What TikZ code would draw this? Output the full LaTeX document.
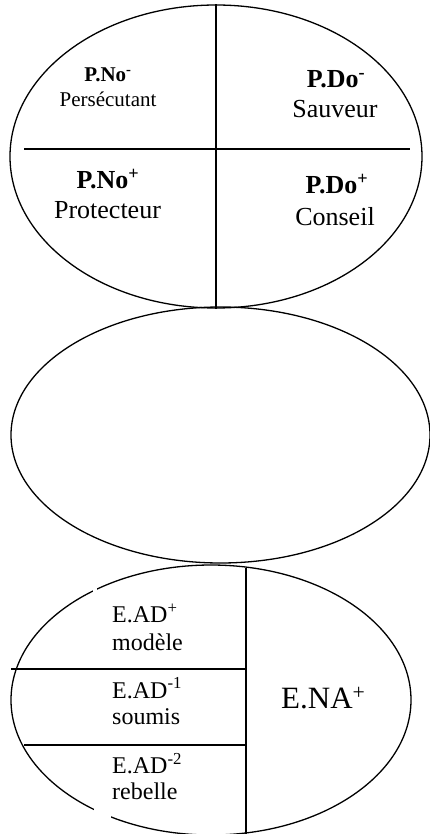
\documentclass[tikz,border=0pt]{standalone}
\usepackage{fontspec}
\setmainfont{Liberation Serif}
\usetikzlibrary{shapes.geometric}
\begin{document}
\begin{tikzpicture}[x=1pt,y=-1pt,
  oval/.style={draw, ellipse, line width=1.3pt, inner sep=0pt},
  divider/.style={line width=2pt},
  lbl/.style={inner sep=0pt, anchor=base},
  lblw/.style={inner sep=0pt, anchor=base west},
  fsmall/.style={font=\fontsize{21}{24}\selectfont},
  fmid/.style={font=\fontsize{24}{28}\selectfont},
  fbig/.style={font=\fontsize{26}{30}\selectfont},
  fhuge/.style={font=\fontsize{31}{36}\selectfont}]
\clip (0,0) rectangle (430,834);
\fill[white] (0,0) rectangle (430,834);

% three stacked ovals
\node[oval, minimum width=412pt, minimum height=303pt] (roles) at (216,156.5) {};
\node[oval, minimum width=419pt, minimum height=256pt] (empty) at (220.5,435) {};
\node[oval, minimum width=400pt, minimum height=270pt] (states) at (211,700) {};

% quadrants of the upper oval
\coordinate (hL) at (24,149);
\coordinate (hR) at (410,149);
\draw[divider] (roles.north) -- (roles.south);
\draw[divider] (hL) -- (hR);

% columns and rows of the lower oval
\coordinate (vT) at (246,568);
\coordinate (vB) at (246,840);
\coordinate (r1L) at (11,669);
\coordinate (r1R) at (246,669);
\coordinate (r2L) at (24,745);
\coordinate (r2R) at (246,745);
\draw[divider] (vT) -- (vB);
\draw[divider] (r1L) -- (r1R);
\draw[divider] (r2L) -- (r2R);

% small breaks in the outline of the lower oval
\fill[white] (93.3,584) rectangle (96.7,597);
\fill[white] (93.5,806) rectangle (110.5,828);

% labels of the upper oval
\node[lbl, fsmall] (pnomT) at (108,81.7) {\textbf{P.No\textsuperscript{-}}};
\node[lbl, fsmall] (pnomS) at (108,106.7) {Persécutant};
\node[lbl, fbig] (pdomT) at (336,87.3) {\textbf{P.Do\textsuperscript{-}}};
\node[lbl, fbig] (pdomS) at (335,117.3) {Sauveur};
\node[lbl, fbig] (pnopT) at (108,188.3) {\textbf{P.No\textsuperscript{+}}};
\node[lbl, fbig] (pnopS) at (107.5,218.3) {Protecteur};
\node[lbl, fbig] (pdopT) at (337,194) {\textbf{P.Do\textsuperscript{+}}};
\node[lbl, fbig] (pdopS) at (335,225.7) {Conseil};

% labels of the lower oval
\node[lblw, fmid] (ead1T) at (112,622.7) {E.AD\textsuperscript{+}};
\node[lblw, fmid] (ead1S) at (112,650) {modèle};
\node[lblw, fmid] (ead2T) at (112,698) {E.AD\textsuperscript{-1}};
\node[lblw, fmid] (ead2S) at (112,724) {soumis};
\node[lblw, fmid] (ead3T) at (112,773.3) {E.AD\textsuperscript{-2}};
\node[lblw, fmid] (ead3S) at (112,799) {rebelle};
\node[lblw, fhuge] (ena) at (281,708.3) {E.NA\textsuperscript{+}};
\end{tikzpicture}
\end{document}
